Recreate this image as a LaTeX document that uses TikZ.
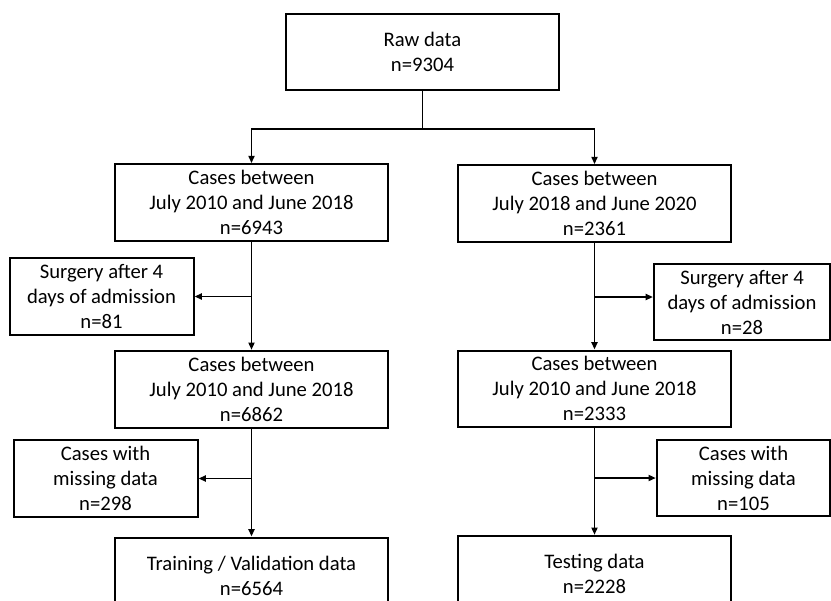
\documentclass[tikz,border=0pt]{standalone}
\usepackage{fontspec}
\setmainfont{Carlito}
\usepackage{tikz}
\usetikzlibrary{positioning,arrows.meta}

\tikzset{
  box/.style={draw, line width=1.5pt, align=center, inner sep=0pt,
    font=\fontsize{15.5}{18.75}\selectfont},
  wide/.style={box, minimum width=205pt, minimum height=57.5pt},
  side/.style={box, minimum width=138pt, minimum height=57.5pt},
  arr/.style={line width=1.4pt, -{Triangle[length=5.5pt,width=4.5pt]}},
  link/.style={line width=1.4pt}
}

\begin{document}
\begin{tikzpicture}[x=0.75pt,y=-0.75pt]
  \useasboundingbox (0,0) rectangle (831,600);
  \clip (0,0) rectangle (831,600);

  \node[wide] (raw) at (422.5,52) {Raw data\\n=9304};
  \node[wide] (early) at (251.5,202.5) {Cases between\\July 2010 and June 2018\\n=6943};
  \node[wide] (late) at (594.5,203.5) {Cases between\\July 2018 and June 2020\\n=2361};
  \node[wide, below=81pt of early] (earlykept) {Cases between\\July 2010 and June 2018\\n=6862};
  \node[wide, below=80pt of late] (latekept) {Cases between\\July 2010 and June 2018\\n=2333};
  \node[wide, below=81pt of earlykept] (train) {Training / Validation data\\n=6564};
  \node[wide, below=80pt of latekept] (test) {Testing data\\n=2228};

  \node[side] (earlysurg) at (101.5,296.5) {Surgery after 4\\days of admission\\n=81};
  \node[side, minimum width=132pt] (latesurg) at (742,302) {Surgery after 4\\days of admission\\n=28};
  \node[side] (earlymiss) at (105.5,478.5) {Cases with\\missing data\\n=298};
  \node[side, minimum width=130pt] (latemiss) at (743.5,478) {Cases with\\missing data\\n=105};

  \coordinate (split) at (422.5,129);
  \coordinate (cut1) at (early.south |- earlysurg.east);
  \coordinate (cut2) at (594.5,297);
  \coordinate (cut3) at (earlykept.south |- earlymiss.east);
  \coordinate (cut4) at (latekept.south |- latemiss.west);

  \draw[link] (raw) -- (split);
  \draw[arr] (split) -| (early);
  \draw[arr] (split) -| (late);

  \draw[arr] (early) -- (earlykept);
  \draw[arr] (cut1) -- (earlysurg);
  \draw[arr] (late) -- (latekept);
  \draw[arr] (cut2) -- (cut2 -| latesurg.west);

  \draw[arr] (earlykept) -- (train);
  \draw[arr] (cut3) -- (earlymiss);
  \draw[arr] (latekept) -- (test);
  \draw[arr] (cut4) -- (latemiss);
\end{tikzpicture}
\end{document}
